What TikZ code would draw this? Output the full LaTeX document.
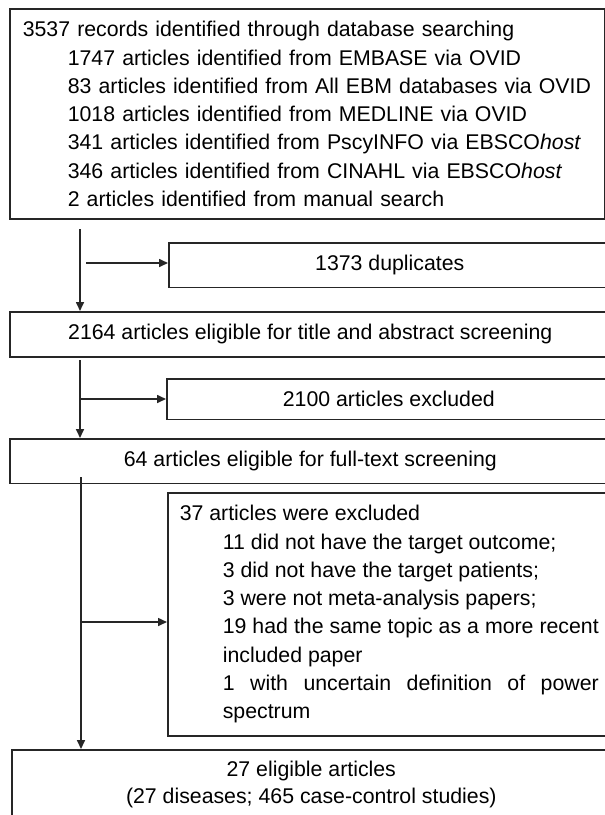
\documentclass[tikz,border=0pt]{standalone}
\usepackage{fontspec}
\setmainfont{Liberation Sans}
\usetikzlibrary{arrows.meta}
\setlength{\parindent}{0pt}
\setlength{\parskip}{0pt}

\tikzset{
  box/.style={draw=black!85, line width=1.6pt, rectangle, inner xsep=12pt, inner ysep=12.5pt,
    font=\fontsize{21.3}{28.3}\selectfont},
  flow/.style={draw=black!85, line width=1.6pt, -{Triangle[length=9pt,width=8pt]}},
}

\begin{document}
\begin{tikzpicture}[x=1pt, y=-1pt]
\useasboundingbox (0,0) rectangle (605,815);
\clip (0,0) rectangle (605,815);
% boxes
\node[box, anchor=north west, inner xsep=13pt, text width=569pt, align=left] (records) at (9,8)
  {3537 records identified through database searching\par
   \leftskip=45pt
   1747 articles identified from EMBASE via OVID\par
   83 articles identified from All EBM databases via OVID\par
   1018 articles identified from MEDLINE via OVID\par
   341 articles identified from PscyINFO via EBSCO\textit{host}\par
   346 articles identified from CINAHL via EBSCO\textit{host}\par
   2 articles identified from manual search\par};
\node[box, anchor=north west, minimum width=442pt, minimum height=43pt] (dupl) at (168,242) {1373 duplicates};
\node[box, anchor=north west, minimum width=601pt, minimum height=45pt] (screen) at (9,311)
  {2164 articles eligible for title and abstract screening};
\node[box, anchor=north west, minimum width=444pt, minimum height=38pt] (excl1) at (166,378) {2100 articles excluded};
\node[box, anchor=north west, minimum width=601pt, minimum height=39pt] (fulltext) at (9,438)
  {64 articles eligible for full-text screening};
\node[box, anchor=north west, text width=419pt, align=justify] (excl2) at (167,492)
  {\tolerance=10000 37 articles were excluded\par
   \leftskip=43pt
   11 did not have the target outcome;\par
   3 did not have the target patients;\par
   3 were not meta-analysis papers;\par
   19 had the same topic as a more recent\linebreak included paper\par
   1 with uncertain definition of power\linebreak spectrum\par};
\node[box, anchor=north west, inner ysep=11.5pt, minimum width=599pt, align=center] (incl) at (11,749)
  {27 eligible articles\\[-1.3pt](27 diseases; 465 case-control studies)};
% arrows
\coordinate (v1) at (80,229);
\coordinate (h1) at (86,263);
\coordinate (v2) at (80,360);
\coordinate (h2) at (80,399);
\coordinate (v3) at (81,477);
\coordinate (h3) at (81,622);
\draw[flow] (v1) -- (v1 |- screen.north);
\draw[flow] (h1) -- (h1 -| dupl.west);
\draw[flow] (v2) -- (v2 |- fulltext.north);
\draw[flow] (h2) -- (h2 -| excl1.west);
\draw[flow] (v3) -- (v3 |- incl.north);
\draw[flow] (h3) -- (h3 -| excl2.west);
\end{tikzpicture}
\end{document}
